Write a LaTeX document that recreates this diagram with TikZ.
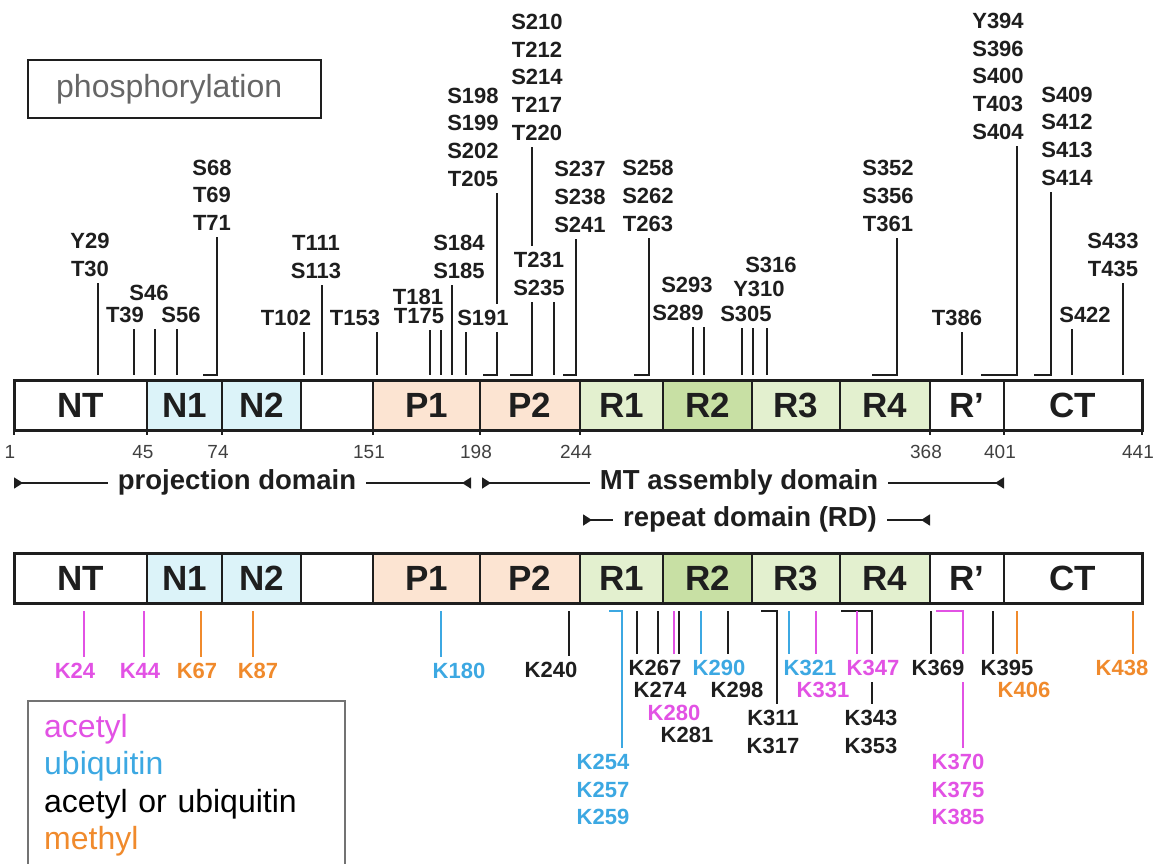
\documentclass[tikz,border=0pt]{standalone}
\usepackage{fontspec}
\setmainfont{Liberation Sans}
\usetikzlibrary{arrows.meta,backgrounds}
\definecolor{acet}{RGB}{226,82,228}
\definecolor{ubiq}{RGB}{60,168,226}
\definecolor{meth}{RGB}{240,138,44}
\definecolor{nfill}{RGB}{220,243,249}
\definecolor{pfill}{RGB}{252,228,210}
\definecolor{rfill}{RGB}{227,240,207}
\definecolor{rdark}{RGB}{200,224,164}
\definecolor{ink}{RGB}{30,30,30}
\begin{document}
\begin{tikzpicture}[x=0.5pt,y=-0.5pt,
  seg/.style={draw=ink, line width=1.2pt, minimum height=25pt, inner sep=0pt, outer sep=0pt,
    text=ink, font=\fontsize{17.5}{20}\selectfont\bfseries},
  site/.style={anchor=south, align=center, inner sep=3pt, text=ink,
    font=\fontsize{11}{13.85}\selectfont\bfseries},
  lys/.style={anchor=north, align=center, inner sep=3pt,
    font=\fontsize{11}{13.75}\selectfont\bfseries},
  tick/.style={line width=1.3pt},
  num/.style={anchor=north, inner sep=3pt, text=ink!85, font=\fontsize{9.5}{11}\selectfont},
  dom/.style={line width=0.8pt, draw=ink,
    {Triangle[reversed,length=4.5pt,width=5.5pt]}-{Triangle[reversed,length=4.5pt,width=5.5pt]}},
  domlabel/.style={anchor=base, fill=white, inner xsep=5pt, inner ysep=1pt, text=ink,
    font=\fontsize{13.75}{15}\selectfont\bfseries}
]
\useasboundingbox (0,0) rectangle (1160,863);

\node[draw=ink, line width=1.2pt, anchor=west, text width=118.5pt, inner xsep=14pt,
  minimum height=29pt, align=left, text=black!60, font=\fontsize{16}{18}\selectfont]
  (phos) at (27,89) {phosphorylation};

% the two bars
\foreach \a/\b/\lab/\col/\nm in {14/147/NT/white/nt, 147/222/N1/nfill/na, 222/301/N2/nfill/nb,
  301/373//white/gp, 373/480/P1/pfill/pa, 480/580/P2/pfill/pb, 580/663/R1/rfill/ra,
  663/752/R2/rdark/rb, 752/840/R3/rfill/rc, 840/930/R4/rfill/rd, 930/1004/R’/white/rp,
  1004/1142/CT/white/ct}
{
  \node[seg, fill=\col, minimum width={(\b-\a)*0.5pt}] (\nm) at ({(\a+\b)/2},405) {\lab};
  \node[seg, fill=\col, minimum width={(\b-\a)*0.5pt}] (b\nm) at ({(\a+\b)/2},578) {\lab};
}
\draw[line width=1.5pt, ink] (nt.north west) rectangle (ct.south east);
\draw[line width=1.5pt, ink] (bnt.north west) rectangle (bct.south east);

% residue numbers
\foreach \x/\v in {14/1, 147/45, 222/74, 373/151, 480/198, 580/244, 930/368, 1004/401, 1142/441}
{
  \draw[line width=1pt, ink] (nt.south -| \x,0) -- ++(0,5);
  \node[num] (n\v) at (\x-4,439) {\v};
}

% domains
\coordinate (pd1) at (14,483);
\coordinate (pd2) at (471,483);
\coordinate (md1) at (482,483);
\coordinate (md2) at (1004,483);
\coordinate (rd1) at (583,520);
\coordinate (rd2) at (930,520);
\draw[dom] (pd1) -- (pd2);
\draw[dom] (md1) -- (md2);
\draw[dom] (rd1) -- (rd2);
\node[domlabel] (pdl) at (237,489) {projection domain};
\node[domlabel] (mdl) at (739,489) {MT assembly domain};
\node[domlabel] (rdl) at (750,526) {repeat domain (RD)};

% phosphorylation sites
\foreach \nm/\x/\y/\txt in {y29/90/283/{Y29\\T30}, t39/125/329/T39, s46/149/307/S46,
  s56/181/329/S56, s68/212/237/{S68\\T69\\T71}, t102/286/332/T102,
  t111/316/285/{T111\\S113}, t153/355/332/T153, t181/418/311/T181, t175/419/330/T175,
  s184/459/285/{S184\\S185}, s198/473/193/{S198\\S199\\S202\\T205},
  s210/537/147/{S210\\T212\\S214\\T217\\T220}, s237/580/239/{S237\\S238\\S241},
  s258/648/238/{S258\\S262\\T263}, s293/687/299/S293, s289/678/327/S289,
  s316/771/279/S316, y310/759/303/Y310, s305/746/328/S305,
  s352/888/238/{S352\\S356\\T361}, t386/957/332/T386,
  y394/998/146/{Y394\\S396\\S400\\T403\\S404}, s409/1067/192/{S409\\S412\\S413\\S414},
  s422/1085/329/S422, s433/1113/283/{S433\\T435}}
  \node[site] (\nm) at (\x,\y) {\txt};
\node[site, fill=white, inner xsep=1pt] (s191) at (483,332) {S191};
\node[site, fill=white] (t231) at (539,302) {T231\\S235};

\coordinate (pgap) at (0,375);
\begin{scope}[on background layer]
\foreach \nm/\x/\h in {y29/98/98, t39/134/134, t39/155/155, s56/177/177, s68/217/203,
  t102/304/304, t111/322/322, t153/377/377, t175/430/430, t175/441/441, s184/452/452,
  s191/466/466, s198/497/483, s210/532/510, t231/554/554, s237/576/563, s258/649/634,
  s289/693/693, s289/704/704, s305/742/742, s305/753/753, s305/767/767, s352/897/872,
  t386/962/962, y394/1017/981, s409/1051/1034, s422/1072/1072, s433/1123/1123}
  \draw[tick, ink] (\nm.south -| \x,0) |- (\h,0 |- pgap);
\end{scope}

% lysine sites
\foreach \nm/\x/\y/\c/\txt in {k24/75/657/acet/K24, k44/140/657/acet/K44, k67/197/657/meth/K67,
  k87/258/657/meth/K87, k180/459/657/ubiq/K180, k240/551/656/ink/K240,
  k254/603/748/ubiq/{K254\\K257\\K259}, k267/655/654/ink/K267, k274/660/676/ink/K274,
  k280/674/699/acet/K280, k281/687/721/ink/K281, k290/719/654/ubiq/K290,
  k298/737/676/ink/K298, k311/773/704/ink/{K311\\K317}, k321/810/654/ubiq/K321,
  k331/823/676/acet/K331, k343/871/704/ink/{K343\\K353}, k370/958/748/acet/{K370\\K375\\K385},
  k395/1007/654/ink/K395, k406/1024/676/meth/K406, k438/1122/654/meth/K438}
  \node[lys, text=\c] (\nm) at (\x,\y) {\txt};
\node[lys, text=acet, fill=white] (k347) at (873,654) {K347};
\node[lys, text=ink, fill=white] (k369) at (938,654) {K369};

\coordinate (kgap) at (0,611);
\begin{scope}[on background layer]
\foreach \nm/\x/\h/\c in {k24/84/84/acet, k44/144/144/acet, k67/201/201/meth, k87/253/253/meth,
  k180/441/441/ubiq, k240/569/569/ink, k254/622/609/ubiq, k267/637/637/ink, k267/658/658/ink,
  k267/674/674/acet, k267/679/679/ink, k290/701/701/ubiq, k290/728/728/ink, k311/777/761/ink,
  k321/789/789/ubiq, k321/816/816/acet, k343/872/841/ink, k347/857/857/acet, k369/931/931/ink,
  k370/963/936/acet, k395/993/993/ink, k395/1017/1017/meth, k438/1133/1133/meth}
  \draw[tick, \c] (\h,0 |- kgap) -| (\nm.north -| \x,0);
\end{scope}

\node[draw=black!55, line width=1.2pt, anchor=north west, text width=142.5pt, inner xsep=8pt,
  inner ysep=6.5pt, align=left, font=\fontsize{16}{18.75}\selectfont] (legend) at (27,700)
  {\textcolor{acet}{acetyl}\\\textcolor{ubiq}{ubiquitin}\\acetyl or ubiquitin\\\textcolor{meth}{methyl}};
\end{tikzpicture}
\end{document}
